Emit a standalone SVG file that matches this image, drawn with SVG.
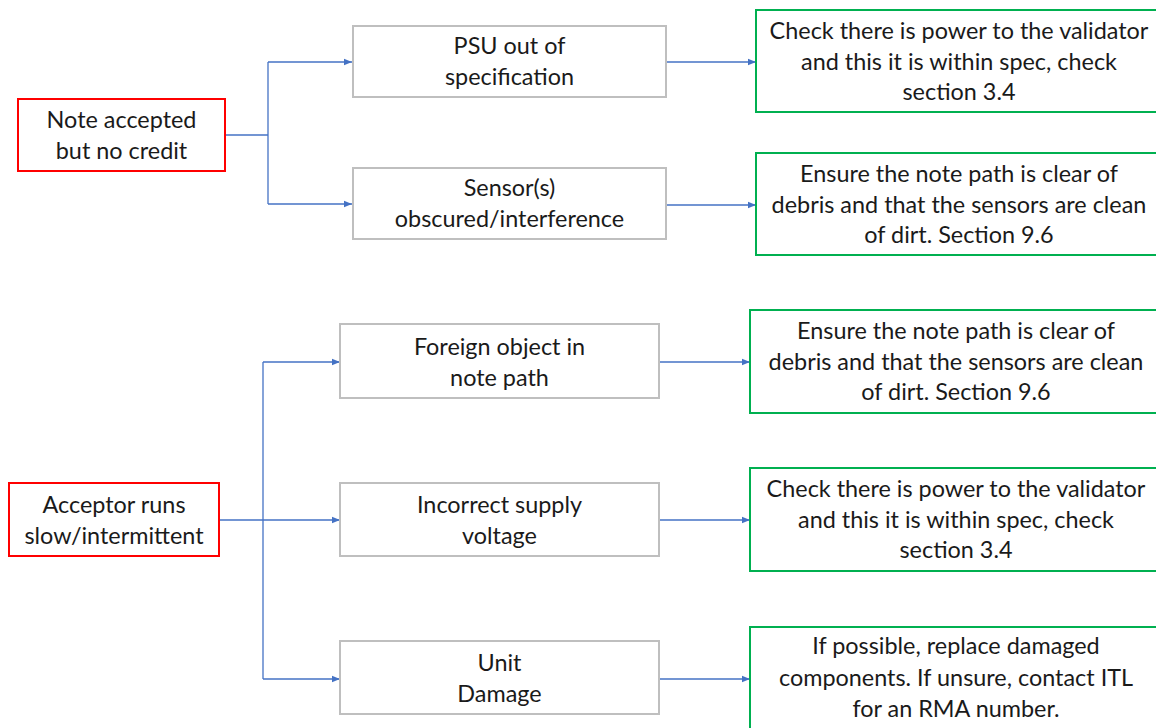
<svg xmlns="http://www.w3.org/2000/svg" width="1156" height="728" viewBox="0 0 1156 728">
<defs>
<marker id="arr" viewBox="0 0 10 10" refX="10" refY="5" markerWidth="8" markerHeight="8" markerUnits="userSpaceOnUse" orient="auto">
<path d="M0,1 L10,5 L0,9 z" fill="#4472C4"/>
</marker>
<style>
.red{fill:#fff;stroke:#FF0000;stroke-width:2}
.gray{fill:#fff;stroke:#BFBFBF;stroke-width:2}
.green{fill:#fff;stroke:#00B050;stroke-width:2}
.t{font-family:Lato,"Liberation Sans",sans-serif;font-size:23.4px;fill:#1a1a1a;text-anchor:middle}
.c{fill:none;stroke:#4472C4;stroke-width:1.3}
</style>
</defs>
<rect width="1156" height="728" fill="#fff"/>
<g id="connectors">
<polyline class="c" points="225,135 268,135"/>
<polyline class="c" points="268,62 268,204"/>
<polyline class="c" points="268,62 352,62" marker-end="url(#arr)"/>
<polyline class="c" points="268,204 352,204" marker-end="url(#arr)"/>
<polyline class="c" points="666,62 756,62" marker-end="url(#arr)"/>
<polyline class="c" points="666,205 756,205" marker-end="url(#arr)"/>
<polyline class="c" points="219,520 340,520" marker-end="url(#arr)"/>
<polyline class="c" points="263,362 263,679"/>
<polyline class="c" points="263,362 340,362" marker-end="url(#arr)"/>
<polyline class="c" points="263,679 340,679" marker-end="url(#arr)"/>
<polyline class="c" points="659,362 750,362" marker-end="url(#arr)"/>
<polyline class="c" points="659,520 750,520" marker-end="url(#arr)"/>
<polyline class="c" points="659,679 750,679" marker-end="url(#arr)"/>
</g>
<g id="n1">
<rect class="red" x="18" y="99" width="207" height="72"/>
<text class="t" x="121.5" y="128">Note accepted</text>
<text class="t" x="121.5" y="159">but no credit</text>
</g>
<g id="n2">
<rect class="gray" x="353" y="26" width="313" height="71"/>
<text class="t" x="509.5" y="54">PSU out of</text>
<text class="t" x="509.5" y="85">specification</text>
</g>
<g id="n3">
<rect class="gray" x="353" y="168" width="313" height="71"/>
<text class="t" x="509.5" y="196">Sensor(s)</text>
<text class="t" x="509.5" y="227">obscured/interference</text>
</g>
<g id="n4">
<rect class="green" x="756" y="10" width="410" height="102"/>
<text class="t" x="959" y="39">Check there is power to the validator</text>
<text class="t" x="959" y="70">and this it is within spec, check</text>
<text class="t" x="959" y="100">section 3.4</text>
</g>
<g id="n5">
<rect class="green" x="756" y="153" width="410" height="102"/>
<text class="t" x="959" y="182">Ensure the note path is clear of</text>
<text class="t" x="959" y="213">debris and that the sensors are clean</text>
<text class="t" x="959" y="243">of dirt. Section 9.6</text>
</g>
<g id="n6">
<rect class="red" x="9" y="483" width="210" height="73"/>
<text class="t" x="114" y="513">Acceptor runs</text>
<text class="t" x="114" y="544">slow/intermittent</text>
</g>
<g id="n7">
<rect class="gray" x="340" y="324" width="319" height="74"/>
<text class="t" x="499.5" y="355">Foreign object in</text>
<text class="t" x="499.5" y="386">note path</text>
</g>
<g id="n8">
<rect class="gray" x="340" y="483" width="319" height="73"/>
<text class="t" x="499.5" y="513">Incorrect supply</text>
<text class="t" x="499.5" y="544">voltage</text>
</g>
<g id="n9">
<rect class="gray" x="340" y="641" width="319" height="73"/>
<text class="t" x="499.5" y="671">Unit</text>
<text class="t" x="499.5" y="702">Damage</text>
</g>
<g id="n10">
<rect class="green" x="750" y="310" width="416" height="103"/>
<text class="t" x="956" y="339">Ensure the note path is clear of</text>
<text class="t" x="956" y="370">debris and that the sensors are clean</text>
<text class="t" x="956" y="400">of dirt. Section 9.6</text>
</g>
<g id="n11">
<rect class="green" x="750" y="468" width="416" height="103"/>
<text class="t" x="956" y="497">Check there is power to the validator</text>
<text class="t" x="956" y="528">and this it is within spec, check</text>
<text class="t" x="956" y="558">section 3.4</text>
</g>
<g id="n12">
<rect class="green" x="750" y="627" width="416" height="110"/>
<text class="t" x="956" y="654">If possible, replace damaged</text>
<text class="t" x="956" y="686">components. If unsure, contact ITL</text>
<text class="t" x="956" y="717">for an RMA number.</text>
</g>
</svg>
